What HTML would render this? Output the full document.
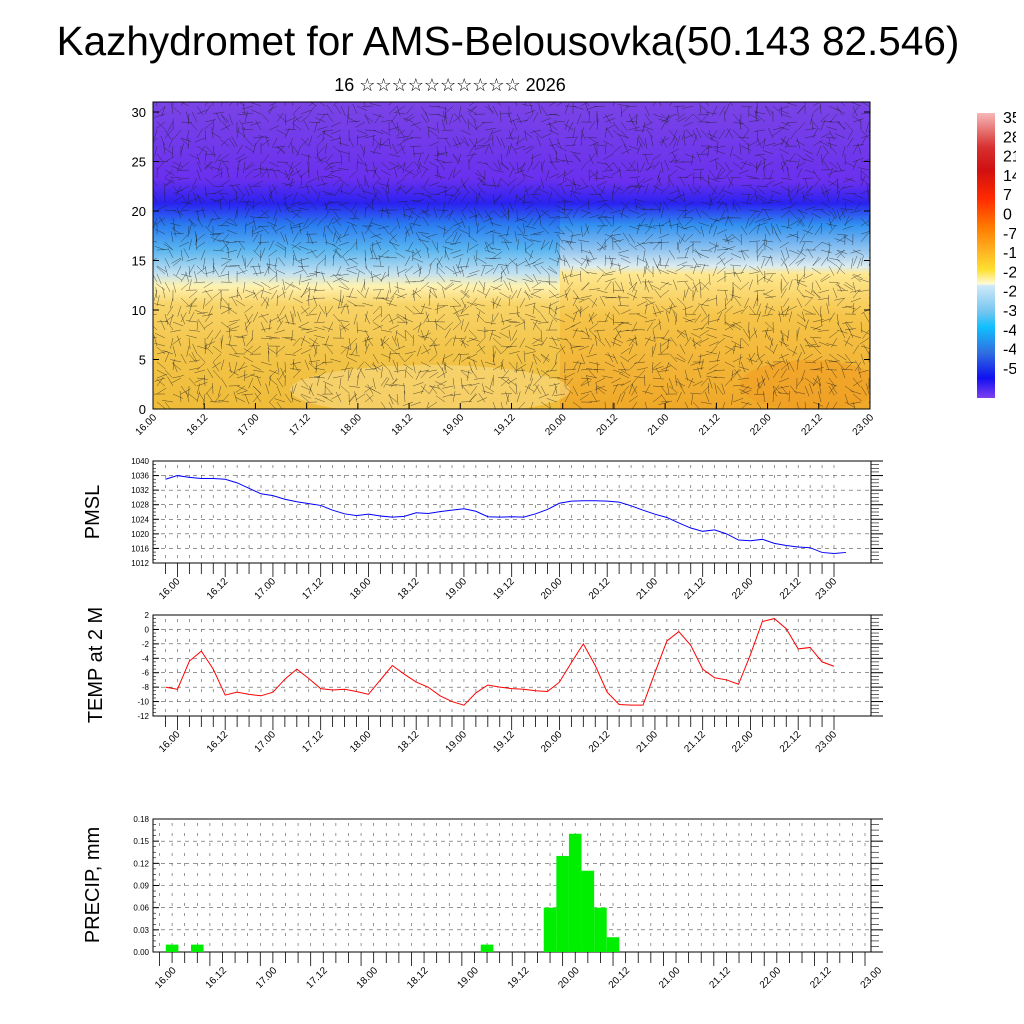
<!DOCTYPE html>
<html><head><meta charset="utf-8"><style>
html,body{margin:0;padding:0;background:#fff;width:1024px;height:1024px;overflow:hidden}
svg text{font-family:"Liberation Sans",sans-serif}
</style></head><body>
<svg id="s" width="1024" height="1024" xmlns="http://www.w3.org/2000/svg">
<defs>
<linearGradient id="gl" x1="0" y1="0" x2="0" y2="1">
<stop offset="0" stop-color="#7a44e6"/><stop offset="0.25" stop-color="#6a30ee"/><stop offset="0.33" stop-color="#2a22f0"/><stop offset="0.40" stop-color="#2a7cf0"/><stop offset="0.48" stop-color="#58b4f0"/><stop offset="0.56" stop-color="#c4e2f0"/><stop offset="0.60" stop-color="#fff2b0"/><stop offset="0.66" stop-color="#f8d468"/><stop offset="0.82" stop-color="#f2c448"/><stop offset="1" stop-color="#f0bc38"/>
</linearGradient>
<linearGradient id="gr" x1="0" y1="0" x2="0" y2="1">
<stop offset="0" stop-color="#7a44e6"/><stop offset="0.26" stop-color="#6a30ee"/><stop offset="0.33" stop-color="#2a22f0"/><stop offset="0.40" stop-color="#3090f0"/><stop offset="0.49" stop-color="#9ccaf0"/><stop offset="0.535" stop-color="#dcecf0"/><stop offset="0.56" stop-color="#ffe890"/><stop offset="0.70" stop-color="#f5c448"/><stop offset="1" stop-color="#f0a828"/>
</linearGradient>
<linearGradient id="cb" x1="0" y1="0" x2="0" y2="1">
<stop offset="0" stop-color="#f6b8b8"/><stop offset="0.12" stop-color="#d83030"/><stop offset="0.2" stop-color="#d01010"/><stop offset="0.3" stop-color="#ff2a00"/><stop offset="0.4" stop-color="#ff7a00"/><stop offset="0.48" stop-color="#ffb020"/><stop offset="0.55" stop-color="#ffe030"/><stop offset="0.6" stop-color="#fffad8"/><stop offset="0.605" stop-color="#d0eaf8"/><stop offset="0.7" stop-color="#70c4f0"/><stop offset="0.75" stop-color="#10c0ff"/><stop offset="0.84" stop-color="#3070e0"/><stop offset="0.93" stop-color="#1010f0"/><stop offset="1" stop-color="#8040f0"/>
</linearGradient>
<clipPath id="topclip"><rect x="153" y="102" width="717" height="307"/></clipPath>
<clipPath id="cbclip"><rect x="995" y="100" width="21" height="300"/></clipPath>
</defs>
<text x="508" y="55" font-size="40.5" text-anchor="middle">Kazhydromet for AMS-Belousovka(50.143 82.546)</text>
<text x="450" y="91" font-size="18" text-anchor="middle">16 ☆☆☆☆☆☆☆☆☆☆ 2026</text>
<g id="topPanel">
<g clip-path="url(#topclip)">
<rect x="153" y="102" width="417" height="307" fill="url(#gl)"/>
<rect x="560" y="102" width="310" height="307" fill="url(#gr)"/>
<ellipse cx="430" cy="390" rx="140" ry="25" fill="#fff2b8" opacity="0.35"/>
<ellipse cx="810" cy="385" rx="70" ry="25" fill="#f09a20" opacity="0.5"/>
<g id="vec"></g>
</g>
<rect x="153" y="102" width="717" height="307" fill="none" stroke="#000" stroke-width="1"/>
</g>
<g>
<rect x="977" y="113" width="18" height="285" fill="url(#cb)"/>
<g id="cbl" font-size="16" clip-path="url(#cbclip)"></g>
</g>
<g id="p1"></g>
<g id="p2"></g>
<g id="p3"></g>
<text transform="translate(99,512) rotate(-90)" font-size="20" text-anchor="middle">PMSL</text>
<text transform="translate(102,665) rotate(-90)" font-size="20" text-anchor="middle">TEMP at 2 M</text>
<text transform="translate(99,885) rotate(-90)" font-size="20" text-anchor="middle">PRECIP, mm</text>
</svg>
<script>
const dateLabels=["16.00","16.12","17.00","17.12","18.00","18.12","19.00","19.12","20.00","20.12","21.00","21.12","22.00","22.12","23.00"];
const pmslValues=[1035,1036,1035.5,1035.2,1035.2,1035,1034,1032.5,1031,1030.5,1029.5,1028.8,1028.3,1027.8,1026.5,1025.5,1025,1025.4,1024.9,1024.6,1024.8,1025.8,1025.6,1026.1,1026.5,1026.9,1026.2,1024.7,1024.6,1024.7,1024.6,1025.5,1026.7,1028.4,1029,1029.1,1029.1,1029,1028.7,1027.7,1026.5,1025.4,1024.5,1023,1021.6,1020.7,1021.1,1020,1018.3,1018.1,1018.5,1017.4,1016.8,1016.4,1016.2,1014.9,1014.6,1014.9];
const pmslTicks=[1012,1016,1020,1024,1028,1032,1036,1040];
const tempValues=[-8,-8.3,-4.4,-3,-5.5,-9.1,-8.7,-9,-9.2,-8.7,-6.9,-5.5,-6.8,-8.2,-8.4,-8.3,-8.6,-9,-7,-5,-6.2,-7.3,-8,-9.2,-10,-10.5,-8.8,-7.7,-8,-8.2,-8.3,-8.5,-8.6,-7.3,-4.6,-2,-5,-8.7,-10.4,-10.5,-10.5,-6,-1.6,-0.3,-2.2,-5.5,-6.7,-7,-7.6,-3.5,1.1,1.5,0.1,-2.7,-2.5,-4.5,-5.1];
const tempTicks=[-12,-10,-8,-6,-4,-2,0,2];
const precipIndex=[1,3,26,31,32,33,34,35,36];
const precipValues=[0.01,0.01,0.01,0.06,0.13,0.16,0.11,0.06,0.02];
const precipTicks=["0.00","0.03","0.06","0.09","0.12","0.15","0.18"];
const topTicks=[0,5,10,15,20,25,30];
const cbLabels=["35","28","21","14","7","0","-7","-14","-21","-28","-35","-42","-49","-56"];
const lineLabelIdx=[1,5,9,13,17,21,25,29,33,37,41,45,49,53,56];
const precipLabelIdx=[0,4,8,12,16,20,24,28,32,36,40,44,48,52,56];
const NS="http://www.w3.org/2000/svg";
function mk(p,t,a){const e=document.createElementNS(NS,t);for(const k in a)e.setAttribute(k,a[k]);p.appendChild(e);return e;}
const topG=document.getElementById('topPanel');
const ty=v=>409-v*(297/30);
topTicks.forEach(v=>{const t=mk(topG,'text',{x:146,y:ty(v)+5,'font-size':13,'text-anchor':'end'});t.textContent=v;


mk(topG,'line',{x1:153,x2:159,y1:ty(v),y2:ty(v),stroke:'#000'});mk(topG,'line',{x1:864,x2:870,y1:ty(v),y2:ty(v),stroke:'#000'});});
dateLabels.forEach((d,i)=>{const x=153+i*717/14;mk(topG,'line',{x1:x,x2:x,y1:409,y2:403,stroke:'#000'});
const t=mk(topG,'text',{transform:`translate(${x+4},${418}) rotate(-45)`,'font-size':10,'text-anchor':'end'});t.textContent=d;

});
const vec=document.getElementById('vec');let vs='';
for(let x=157;x<870;x+=8){for(let y=106;y<409;y+=8){const an=Math.sin(x*0.11+y*0.07)*2.5+Math.cos(x*0.053-y*0.091)*2.1+Math.sin(x*y*0.0007)*1.5;
const L=11;vs+=`M${x.toFixed(1)} ${y}l${(Math.cos(an)*L).toFixed(1)} ${(Math.sin(an)*L).toFixed(1)}`;}}
mk(vec,'path',{d:vs,stroke:'#1a1a1a','stroke-width':0.5,fill:'none',opacity:0.7});
const cbl=document.getElementById('cbl');
cbLabels.forEach((l,i)=>{const t=mk(cbl,'text',{x:1003,y:123+i*19.3});t.textContent=l;

});
function panel(id,y0,y1,ticks,vmin,vmax,x0,step,labelIdx,labelStr,labelShift){
 const g=document.getElementById(id),L=153,R=871;
 const sy=v=>y1-(v-vmin)/(vmax-vmin)*(y1-y0);
 const sx=i=>x0+i*step;
 for(let i=0;i<=56;i++){const x=sx(i);mk(g,'line',{x1:x,x2:x,y1:y0+4,y2:y1,stroke:'#555','stroke-width':0.6,'stroke-dasharray':'3 7'});
  mk(g,'line',{x1:x,x2:x,y1:y1,y2:y1+(labelIdx.includes(i)?14:11),stroke:'#000','stroke-width':0.8});}
 ticks.forEach((tv,k)=>{const v=+tv,y=sy(v);
  mk(g,'line',{x1:L,x2:R,y1:y,y2:y,stroke:'#555','stroke-width':0.6,'stroke-dasharray':'4 4'});
  mk(g,'line',{x1:L,x2:L+6,y1:y,y2:y,stroke:'#000'});mk(g,'line',{x1:R,x2:R+12,y1:y,y2:y,stroke:'#000'});
  if(k<ticks.length-1)for(let m=1;m<4;m++){const ym=y-(y-sy(+ticks[k+1]))*m/4;mk(g,'line',{x1:L,x2:L+3,y1:ym,y2:ym,stroke:'#000','stroke-width':0.6});mk(g,'line',{x1:R,x2:R+8,y1:ym,y2:ym,stroke:'#000','stroke-width':0.6});}
  const t=mk(g,'text',{x:L-4,y:y+3,'font-size':8,'text-anchor':'end'});t.textContent=labelStr?tv:v;
  
  });
 mk(g,'rect',{x:L,y:y0,width:R-L,height:y1-y0,fill:'none',stroke:'#000','stroke-width':1});
 dateLabels.forEach((d,i)=>{const x=sx(labelIdx[i])+labelShift;const t=mk(g,'text',{transform:`translate(${x+3},${y1+19}) rotate(-45)`,'font-size':10,'text-anchor':'end'});t.textContent=d;
  
  });
 return {g,sx,sy};
}
const pa=panel('p1',461,563,pmslTicks,1012,1040,165.5,(834-165.5)/56,lineLabelIdx,false,0);
const l1=mk(pa.g,'polyline',{points:pmslValues.map((v,i)=>pa.sx(i)+','+pa.sy(v)).join(' '),fill:'none',stroke:'#0000ff','stroke-width':1});


const pb=panel('p2',615,716,tempTicks,-12,2,165.5,(834-165.5)/56,lineLabelIdx,false,0);
const l2=mk(pb.g,'polyline',{points:tempValues.map((v,i)=>pb.sx(i)+','+pb.sy(v)).join(' '),fill:'none',stroke:'#ff0000','stroke-width':1});


const pw=(865-159.5)/56;
const pc=panel('p3',819,952,precipTicks,0,0.18,159.5,pw,precipLabelIdx,true,14);
precipIndex.forEach((idx,k)=>{const x=pc.sx(idx)-pw/2;const y=pc.sy(precipValues[k]);
 const r=mk(pc.g,'rect',{x:x,y:y,width:pw,height:952-y,fill:'#00ee00'});
 
 });
</script>
</body></html>
